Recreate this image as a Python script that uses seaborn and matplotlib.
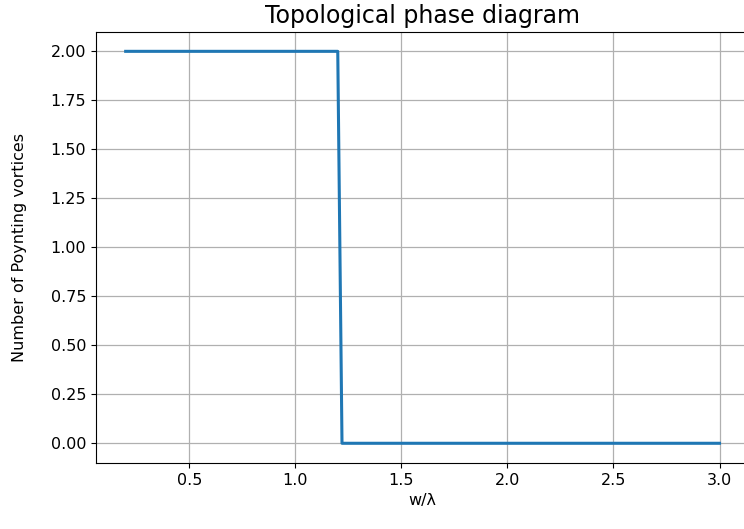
import numpy as np
import pandas as pd
import seaborn as sns
import matplotlib.pyplot as plt

# Width-to-wavelength ratio and number of Poynting vortices
w_over_lambda = [0.2, 1.2, 1.22, 3.0]
n_vortices = [2, 2, 0, 0]

data = pd.DataFrame({"w": w_over_lambda, "n": n_vortices})

plt.rcParams["font.size"] = 11.5
fig, ax = plt.subplots(figsize=(7.44, 5.29), dpi=100)
sns.lineplot(data=data, x="w", y="n", ax=ax, color="#1f77b4", linewidth=2.2)
ax.set_title("Topological phase diagram", fontsize=17)
ax.set_xlabel("w/λ")
ax.set_ylabel("Number of Poynting vortices", labelpad=17)
ax.set_yticks(np.arange(0, 2.01, 0.25))
ax.yaxis.set_major_formatter(plt.FormatStrFormatter("%.2f"))
ax.set_xlim(0.06, 3.14)
ax.grid(True, color="#b0b0b0", linewidth=0.9)
# the original image is cut off on the right, past the axes edge
fig.subplots_adjust(left=0.129, right=1.007, top=0.94, bottom=0.125)
fig.savefig("out.png")
